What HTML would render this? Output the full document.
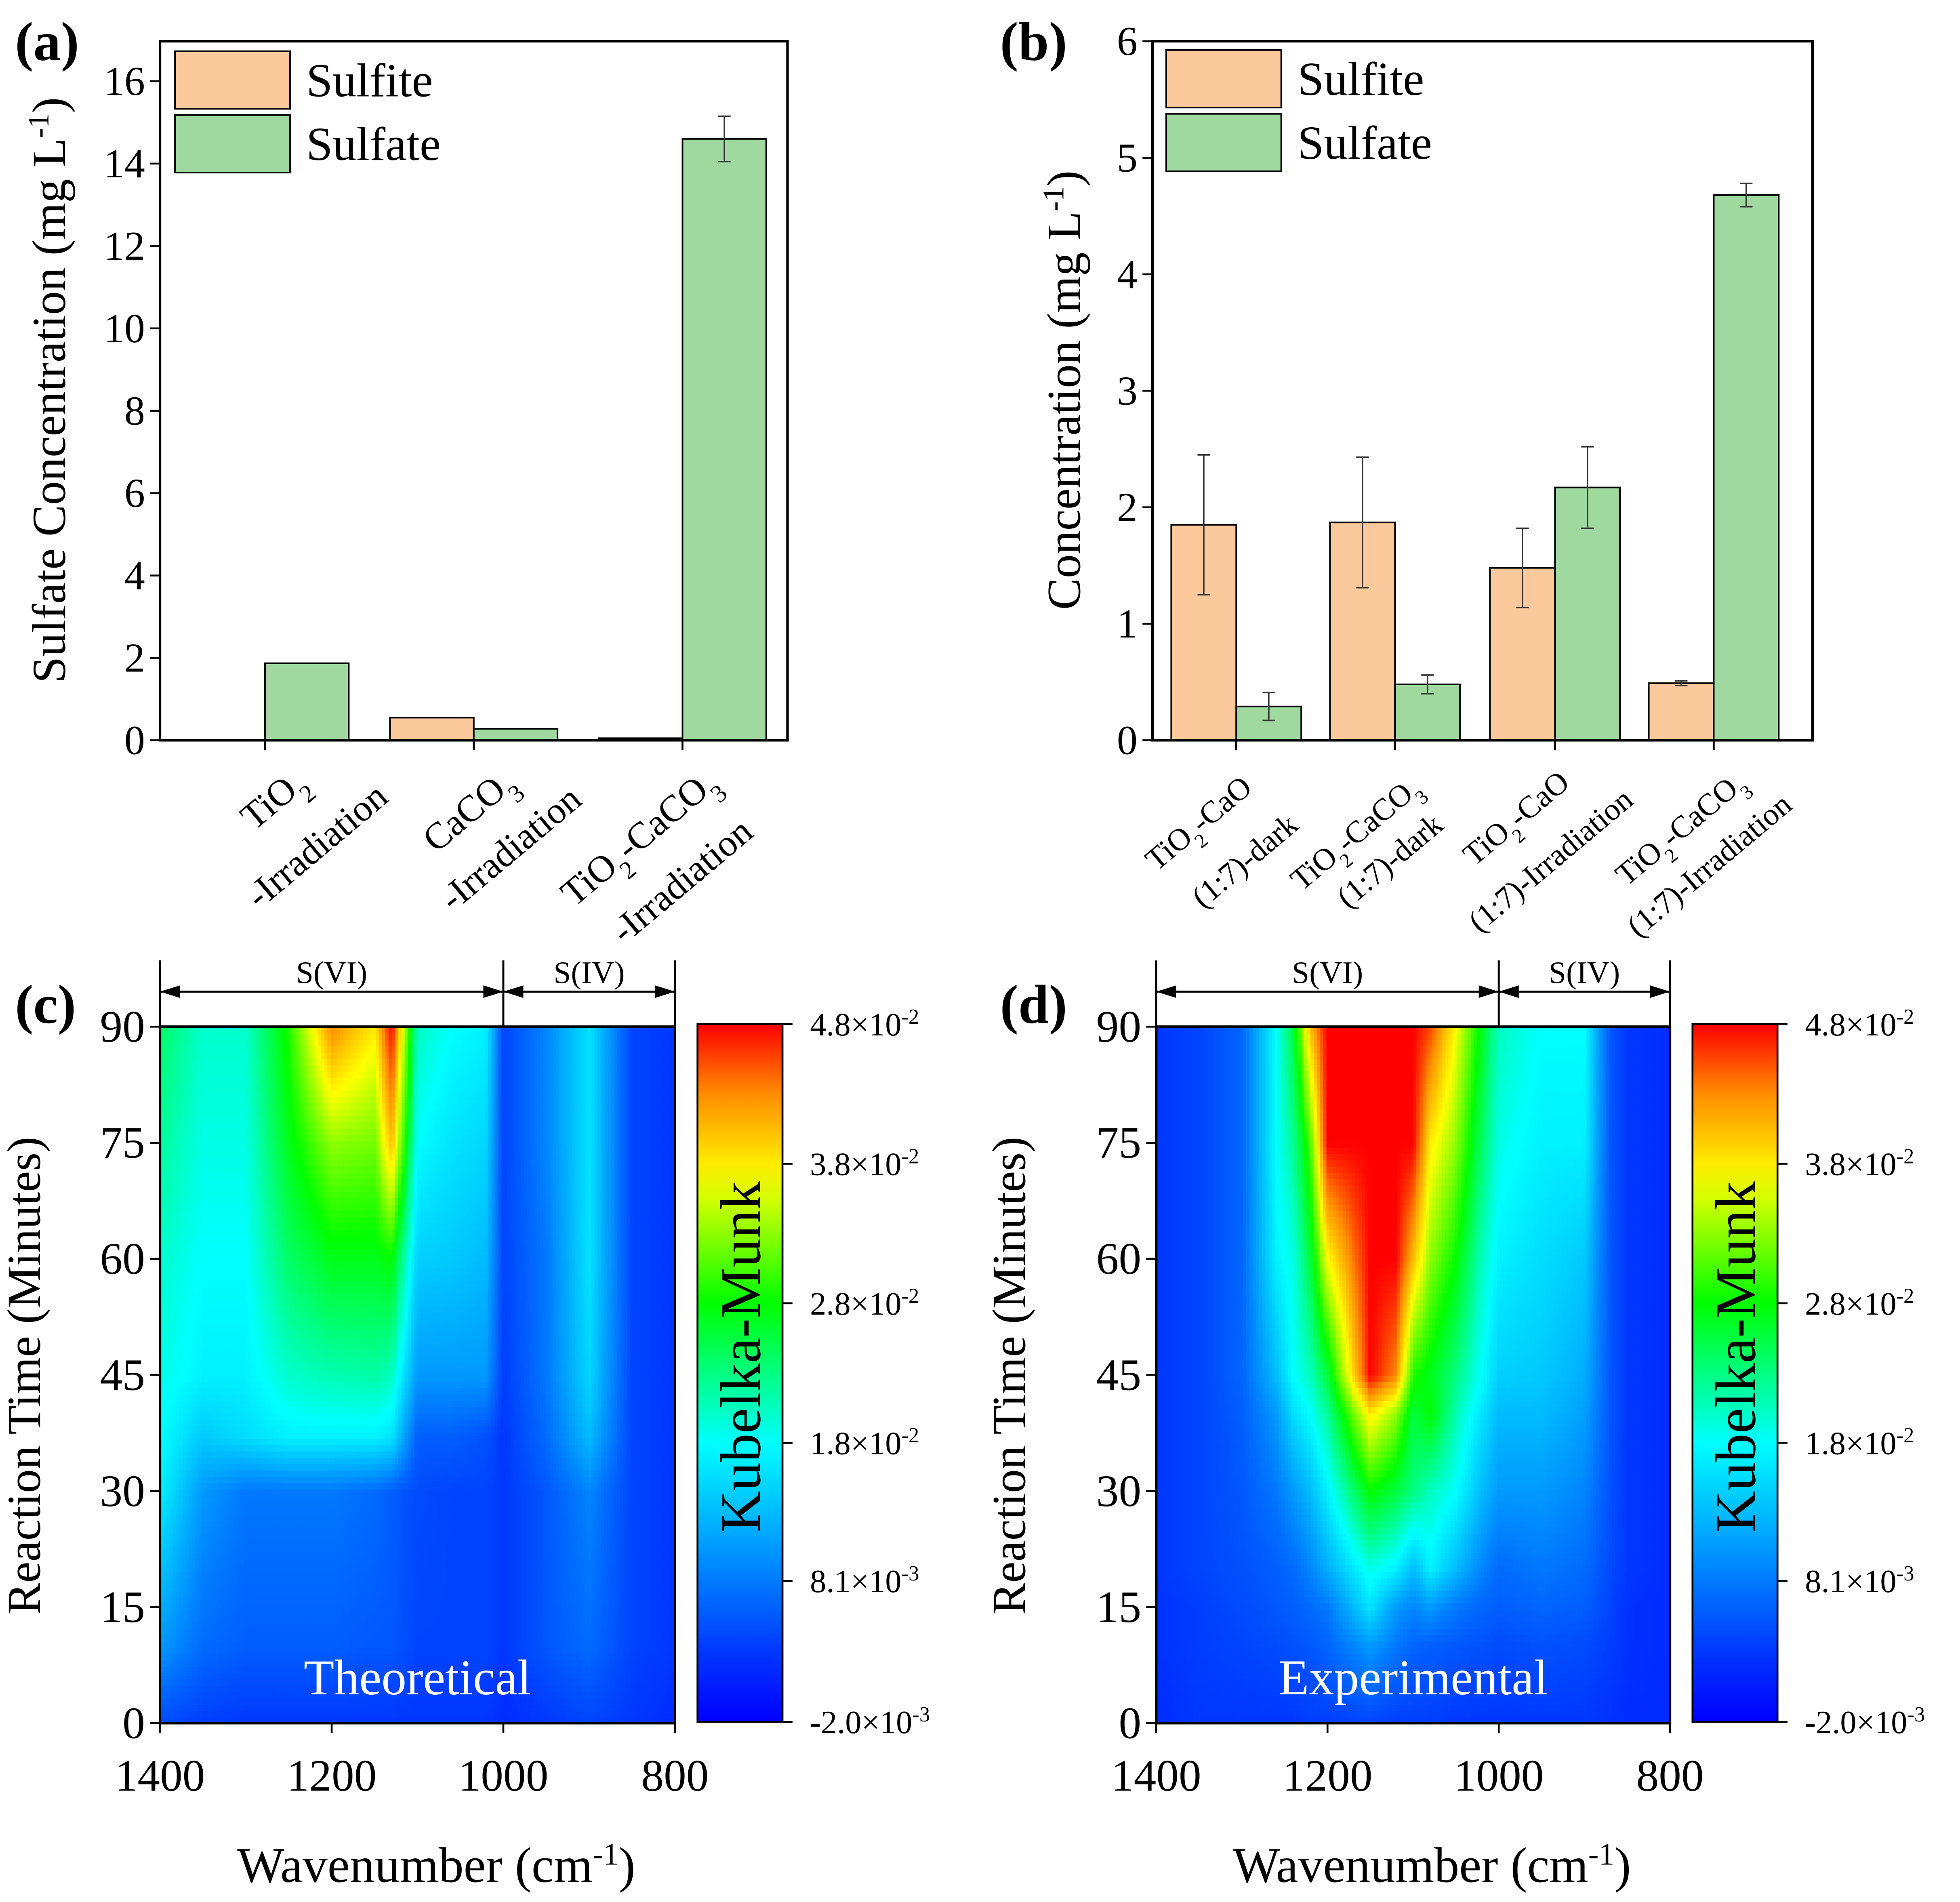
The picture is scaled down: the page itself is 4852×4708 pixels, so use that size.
<!DOCTYPE html>
<html><head><meta charset="utf-8"><style>
html,body{margin:0;padding:0;background:#fff}
svg{display:block}
svg text{font-family:"Liberation Serif","Times New Roman",serif;fill:#000}
</style></head><body>
<svg id="fig" width="4852" height="4708" viewBox="0 0 1568 1521" preserveAspectRatio="none" xmlns="http://www.w3.org/2000/svg" font-family="Liberation Serif, serif">
<rect width="1568" height="1521" fill="#fff"/>
<g id="pa"></g>
<g id="pb"></g>
<g id="pc"></g>
<g id="pd"></g>
</svg>
<script>
// ---- Panel (a) data ----
const aCats = [["TiO<tspan baseline-shift='sub' font-size='20'>2</tspan>","-Irradiation"],["CaCO<tspan baseline-shift='sub' font-size='20'>3</tspan>","-Irradiation"],["TiO<tspan baseline-shift='sub' font-size='20'>2</tspan>-CaCO<tspan baseline-shift='sub' font-size='20'>3</tspan>","-Irradiation"]];
const aSulfite = [0, 0.55, 0.05];
const aSulfate = [1.87, 0.28, 14.6];
const aSulfateErr = [0, 0, 0.55];
const aTicks = [0,2,4,6,8,10,12,14,16];
// ---- Panel (b) data ----
const bCats = [["TiO<tspan baseline-shift='sub' font-size='16'>2</tspan>-CaO","(1:7)-dark"],["TiO<tspan baseline-shift='sub' font-size='16'>2</tspan>-CaCO<tspan baseline-shift='sub' font-size='16'>3</tspan>","(1:7)-dark"],["TiO<tspan baseline-shift='sub' font-size='16'>2</tspan>-CaO","(1:7)-Irradiation"],["TiO<tspan baseline-shift='sub' font-size='16'>2</tspan>-CaCO<tspan baseline-shift='sub' font-size='16'>3</tspan>","(1:7)-Irradiation"]];
const bSulfite = [1.85, 1.87, 1.48, 0.49];
const bSulfiteErr = [0.6, 0.56, 0.34, 0.02];
const bSulfate = [0.29, 0.48, 2.17, 4.68];
const bSulfateErr = [0.12, 0.08, 0.35, 0.1];
const bTicks = [0,1,2,3,4,5,6];
// ---- Heatmap (c) data (normalized Kubelka-Munk, 0=-2.0e-3, 1=4.8e-2) ----
const cWave = [1400,1350,1300,1250,1200,1150,1130,1100,1060,1020,1000,950,900,850,800];
const cTime = [0,10,30,37,45,60,75,90];
const cMatrix = [
 [0.13,0.11,0.10,0.10,0.10,0.10,0.10,0.10,0.10,0.10,0.08,0.10,0.12,0.10,0.08],
 [0.25,0.18,0.16,0.16,0.16,0.15,0.15,0.12,0.12,0.12,0.10,0.15,0.18,0.12,0.10],
 [0.38,0.25,0.20,0.20,0.20,0.18,0.16,0.13,0.12,0.12,0.10,0.15,0.22,0.12,0.10],
 [0.40,0.32,0.35,0.38,0.38,0.38,0.36,0.16,0.16,0.14,0.10,0.18,0.30,0.12,0.10],
 [0.42,0.38,0.38,0.44,0.46,0.47,0.45,0.25,0.25,0.25,0.11,0.20,0.34,0.12,0.10],
 [0.44,0.40,0.40,0.52,0.58,0.58,0.60,0.33,0.32,0.30,0.12,0.20,0.36,0.12,0.10],
 [0.48,0.42,0.42,0.58,0.70,0.68,0.85,0.40,0.36,0.34,0.12,0.22,0.36,0.12,0.10],
 [0.52,0.44,0.44,0.62,0.90,0.80,1.00,0.45,0.40,0.38,0.12,0.22,0.36,0.12,0.10]];
// ---- Heatmap (d) data ----
const dWave = [1400,1350,1300,1260,1240,1220,1200,1150,1120,1100,1080,1050,1020,1000,950,900,870,850,800];
const dTime = [0,10,15,20,30,40,45,60,75,90];
const dMatrix = [
 [0.08,0.10,0.10,0.10,0.10,0.11,0.11,0.12,0.11,0.11,0.11,0.10,0.10,0.10,0.10,0.10,0.09,0.08,0.08],
 [0.09,0.11,0.12,0.13,0.14,0.15,0.17,0.25,0.20,0.17,0.16,0.15,0.14,0.13,0.14,0.13,0.11,0.09,0.08],
 [0.09,0.11,0.13,0.15,0.16,0.18,0.20,0.36,0.25,0.22,0.25,0.20,0.17,0.16,0.17,0.16,0.12,0.09,0.08],
 [0.10,0.12,0.14,0.16,0.18,0.22,0.28,0.42,0.38,0.30,0.38,0.30,0.22,0.18,0.20,0.18,0.13,0.10,0.08],
 [0.10,0.12,0.15,0.20,0.25,0.30,0.38,0.60,0.55,0.50,0.45,0.40,0.30,0.25,0.25,0.22,0.14,0.10,0.08],
 [0.10,0.12,0.16,0.25,0.35,0.40,0.48,0.80,0.70,0.55,0.60,0.46,0.36,0.30,0.30,0.26,0.15,0.10,0.08],
 [0.10,0.12,0.17,0.30,0.40,0.45,0.55,1.00,0.90,0.62,0.58,0.50,0.40,0.33,0.32,0.28,0.15,0.10,0.08],
 [0.10,0.12,0.17,0.38,0.42,0.55,0.78,1.00,1.00,0.85,0.70,0.60,0.45,0.38,0.35,0.32,0.15,0.10,0.08],
 [0.10,0.12,0.17,0.40,0.48,0.65,1.00,1.00,1.00,1.00,0.80,0.70,0.52,0.42,0.38,0.38,0.15,0.10,0.08],
 [0.10,0.12,0.17,0.40,0.55,0.85,1.00,1.00,1.00,1.00,0.95,0.78,0.58,0.45,0.40,0.40,0.15,0.10,0.08]];
const cbLabels = ["4.8×10<tspan baseline-shift='super' font-size='17'>-2</tspan>","3.8×10<tspan baseline-shift='super' font-size='17'>-2</tspan>","2.8×10<tspan baseline-shift='super' font-size='17'>-2</tspan>","1.8×10<tspan baseline-shift='super' font-size='17'>-2</tspan>","8.1×10<tspan baseline-shift='super' font-size='17'>-3</tspan>","-2.0×10<tspan baseline-shift='super' font-size='17'>-3</tspan>"];
const cbValues = [0.048,0.038,0.028,0.018,0.0081,-0.002];
const xTicks = [1400,1200,1000,800];
const tTicks = [0,15,30,45,60,75,90];

const NS="http://www.w3.org/2000/svg";
const FF="Liberation Serif, Times New Roman, serif";
function mk(parent,tag,attrs,html){const e=document.createElementNS(NS,tag);for(const k in attrs)e.setAttribute(k,attrs[k]);if(tag==='text')e.setAttribute('font-family',FF);if(html!==undefined)e.innerHTML=html;parent.appendChild(e);return e;}
const ORANGE="#fbc99c", GREEN="#9fd9a0";

function barPanel(g,L,R,T,B,ymax,ticks,cats,s1,e1,s2,e2,centers,bw,catStyle){
  const ys=v=>B-(B-T)*v/ymax;
  for(let i=0;i<cats.length;i++){
    const c=centers[i];
    let r=mk(g,'rect',{x:c-bw,y:ys(s1[i]),width:bw,height:B-ys(s1[i]),fill:ORANGE,stroke:'#000','stroke-width':1.3});
    
    
    r=mk(g,'rect',{x:c,y:ys(s2[i]),width:bw,height:B-ys(s2[i]),fill:GREEN,stroke:'#000','stroke-width':1.3});
    
    
    [[c-bw/2,s1[i],e1?e1[i]:0],[c+bw/2,s2[i],e2?e2[i]:0]].forEach(([x,v,e])=>{
      if(e>0){const eb=mk(g,'path',{d:`M${x},${ys(v+e)}V${ys(v-e)}M${x-5},${ys(v+e)}H${x+5}M${x-5},${ys(v-e)}H${x+5}`,stroke:'#333','stroke-width':1.2,fill:'none'});
      
      }
    });
    mk(g,'line',{x1:c,x2:c,y1:B,y2:B+8,stroke:'#000','stroke-width':1.5});
    const [fs,dx1,dy1,dx2,dy2]=catStyle[i];
    let t=mk(g,'text',{x:c+dx1,y:dy1,'font-size':fs,'text-anchor':'end',transform:`rotate(-40 ${c+dx1} ${dy1})`},cats[i][0]);
    
    
    t=mk(g,'text',{x:c+dx2,y:dy2,'font-size':fs,'text-anchor':'end',transform:`rotate(-40 ${c+dx2} ${dy2})`},cats[i][1]);
    
    
  }
  const ax=mk(g,'rect',{x:L,y:T,width:R-L,height:B-T,fill:'none',stroke:'#000','stroke-width':2});
  
  
  ticks.forEach(v=>{
    mk(g,'line',{x1:L-8,x2:L,y1:ys(v),y2:ys(v),stroke:'#000','stroke-width':1.5});
    const t=mk(g,'text',{x:L-12,y:ys(v)+11,'font-size':33,'text-anchor':'end'},String(v));
    
    
  });
}
function legend(g,x,y){
  [[ORANGE,'Sulfite'],[GREEN,'Sulfate']].forEach(([c,n],i)=>{
    const r=mk(g,'rect',{x:x,y:y+i*51,width:92,height:46,fill:c,stroke:'#000','stroke-width':1.3});
    
    
    const t=mk(g,'text',{x:x+105,y:y+i*51+36,'font-size':38},n);
    
    
  });
}
// Panel a
const pa=document.getElementById('pa');
barPanel(pa,128,630,33,592,16.97,aTicks,aCats,aSulfite,null,aSulfate,aSulfateErr,[212,379,546],67,
 [[30,35,628,100,640],[30,35,628,88,642],[30,30,628,58,668]]);
legend(pa,140,41);
let t=mk(pa,'text',{x:52,y:312,'font-size':38,'text-anchor':'middle',transform:'rotate(-90 52 312)'},"Sulfate Concentration (mg L<tspan baseline-shift='super' font-size='24'>-1</tspan>)");


t=mk(pa,'text',{x:12,y:48,'font-size':44,'font-weight':'bold'},"(a)");


// Panel b
const pb=document.getElementById('pb');
barPanel(pb,922,1450,33,592,6,bTicks,bCats,bSulfite,bSulfiteErr,bSulfate,bSulfateErr,[989,1116,1244,1371],52,
 [[25,14,632,51,662],[25,22,632,40,662],[25,13,628,64,642],[25,27,628,64,646]]);
legend(pb,933,40);
t=mk(pb,'text',{x:864,y:312,'font-size':38,'text-anchor':'middle',transform:'rotate(-90 864 312)'},"Concentration (mg L<tspan baseline-shift='super' font-size='24'>-1</tspan>)");


t=mk(pb,'text',{x:800,y:48,'font-size':44,'font-weight':'bold'},"(b)");



function jet(v){v=Math.max(0,Math.min(1,v));
  const stops=[[0,[0,0,255]],[0.1,[0,55,255]],[0.2,[0,120,255]],[0.4,[0,255,255]],[0.6,[0,255,0]],[0.78,[255,255,0]],[0.9,[255,140,0]],[1,[255,0,0]]];
  for(let i=1;i<stops.length;i++){if(v<=stops[i][0]){const[a,ca]=stops[i-1],[b,cb]=stops[i];const f=(v-a)/(b-a);
    return `rgb(${Math.round(ca[0]+(cb[0]-ca[0])*f)},${Math.round(ca[1]+(cb[1]-ca[1])*f)},${Math.round(ca[2]+(cb[2]-ca[2])*f)})`;}}
  return 'rgb(255,0,0)';}
function sample(M,W,Tm,w,tm){
  let j=0;while(j<W.length-2&&w<W[j+1])j++;
  let i=0;while(i<Tm.length-2&&tm>Tm[i+1])i++;
  const fw=Math.max(0,Math.min(1,(W[j]-w)/(W[j]-W[j+1]))), ft=Math.max(0,Math.min(1,(tm-Tm[i])/(Tm[i+1]-Tm[i])));
  const a=M[i][j]*(1-fw)+M[i][j+1]*fw, b=M[i+1][j]*(1-fw)+M[i+1][j+1]*fw;
  return a*(1-ft)+b*ft;}
function heatPanel(g,M,W,Tm,L,R,label,name,letter,bx){
  const T=821,B=1378;
  const xs=w=>L+(1400-w)/600*(R-L), ys=m=>B-m/90*(B-T);
  const NC=160,NR=110;
  for(let r=0;r<NR;r++)for(let c=0;c<NC;c++){
    const w0=1400-600*c/NC,w1=1400-600*(c+1)/NC,m0=90*r/NR,m1=90*(r+1)/NR;
    const v=sample(M,W,Tm,(w0+w1)/2,(m0+m1)/2);
    mk(g,'rect',{x:xs(w0),y:ys(m1),width:xs(w1)-xs(w0)+0.5,height:ys(m0)-ys(m1)+0.5,fill:jet(v)});
  }
  let f=mk(g,'rect',{x:L,y:T,width:R-L,height:B-T,fill:'none',stroke:'#000','stroke-width':2});
  
  
  xTicks.forEach(w=>{mk(g,'line',{x1:xs(w),x2:xs(w),y1:B,y2:B+8,stroke:'#000','stroke-width':1.5});
    const tt=mk(g,'text',{x:xs(w),y:1432,'font-size':36,'text-anchor':'middle'},String(w));
    
    });
  tTicks.forEach(m=>{mk(g,'line',{x1:L-8,x2:L,y1:ys(m),y2:ys(m),stroke:'#000','stroke-width':1.5});
    const tt=mk(g,'text',{x:L-12,y:ys(m)+12,'font-size':36,'text-anchor':'end'},String(m));
    
    });
  const xm=xs(1000);
  mk(g,'path',{d:`M${L},768V${T}M${xm},768V${T}M${R},768V${T}M${L},793H${R}`,stroke:'#000','stroke-width':1.6,fill:'none'});
  [[L,1],[xm,-1],[xm,1],[R,-1]].forEach(([x,d])=>mk(g,'path',{d:`M${x},793l${d*16},-5v10z`,fill:'#000'}));
  let tt=mk(g,'text',{x:(L+xm)/2,y:786,'font-size':25,'text-anchor':'middle'},"S(VI)");
  
  
  tt=mk(g,'text',{x:(xm+R)/2,y:786,'font-size':25,'text-anchor':'middle'},"S(IV)");
  
  
  tt=mk(g,'text',{x:(L+R)/2,y:1355,'font-size':40,'text-anchor':'middle',style:'fill:#fff'},label);
  
  
  const cbL=R+18,cbW=68,cbT=819,cbB=1377;
  const gid='cg'+letter;
  const defs=mk(g,'defs',{});const lg=mk(defs,'linearGradient',{id:gid,x1:0,y1:1,x2:0,y2:0});
  for(let k=0;k<=20;k++)mk(lg,'stop',{offset:k/20,'stop-color':jet(k/20)});
  let cb=mk(g,'rect',{x:cbL,y:cbT,width:cbW,height:cbB-cbT,fill:`url(#${gid})`,stroke:'#000','stroke-width':1.5});
  
  
  cbValues.forEach((v,k)=>{const y=cbB-(v+0.002)/0.05*(cbB-cbT);
    mk(g,'line',{x1:cbL+cbW,x2:cbL+cbW+8,y1:y,y2:y,stroke:'#000','stroke-width':1.5});
    const l=mk(g,'text',{x:cbL+cbW+22,y:y+9,'font-size':26},cbLabels[k]);
    
    });
  tt=mk(g,'text',{x:cbL+cbW/2+16,y:1085,'font-size':46,'text-anchor':'middle',transform:`rotate(-90 ${cbL+cbW/2+16} 1085)`},"Kubelka-Munk");
  
  
  tt=mk(g,'text',{x:bx+20,y:1100,'font-size':38,'text-anchor':'middle',transform:`rotate(-90 ${bx+20} 1100)`},"Reaction Time (Minutes)");
  
  
  tt=mk(g,'text',{x:(L+R)/2+15,y:1505,'font-size':40,'text-anchor':'middle'},"Wavenumber (cm<tspan baseline-shift='super' font-size='25'>-1</tspan>)");
  
  
  tt=mk(g,'text',{x:bx,y:818,'font-size':44,'font-weight':'bold'},"("+letter+")");
  
  
}
heatPanel(document.getElementById('pc'),cMatrix,cWave,cTime,128,540,"Theoretical","theoretical-label","c",12);
heatPanel(document.getElementById('pd'),dMatrix,dWave,dTime,925,1336,"Experimental","experimental-label","d",800);
</script>
</body></html>
